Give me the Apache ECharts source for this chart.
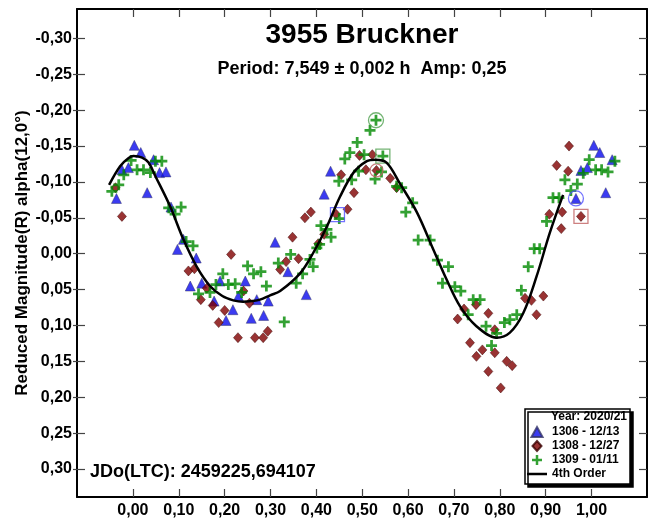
<!DOCTYPE html>
<html><head><meta charset="utf-8">
<script src="https://cdn.jsdelivr.net/npm/echarts@6/dist/echarts.min.js"></script>
<style>html,body{margin:0;padding:0;background:#fff}#c{width:649px;height:519px}</style>
</head><body><div id="c"></div>
<script>
const xTicks = [0, 0.1, 0.2, 0.3, 0.4, 0.5, 0.6, 0.7, 0.8, 0.9, 1.0];
const yTicks = [-0.30, -0.25, -0.20, -0.15, -0.10, -0.05, 0, 0.05, 0.10, 0.15, 0.20, 0.25, 0.30];

const s1306 = [[-0.036,-0.077],[-0.024,-0.117],[-0.010,-0.120],[0.003,-0.151],[0.017,-0.141],[0.031,-0.085],[0.045,-0.131],[0.058,-0.113],[0.072,-0.114],[0.083,-0.065],[0.097,-0.006],[0.110,-0.020],[0.125,0.045],[0.138,0.006],[0.150,0.041],[0.177,0.066],[0.190,0.038],[0.203,0.093],[0.218,0.078],[0.230,0.059],[0.245,0.038],[0.258,0.090],[0.270,0.064],[0.285,0.086],[0.295,0.066],[0.310,-0.016],[0.338,0.025],[0.378,0.057],[0.417,-0.083],[0.431,-0.115],[0.966,-0.077],[0.977,-0.116],[0.991,-0.120],[1.005,-0.151],[1.018,-0.141],[1.031,-0.085],[1.045,-0.131]];

const s1308 = [[-0.038,-0.092],[-0.024,-0.052],[0.121,0.024],[0.134,0.021],[0.148,0.064],[0.161,0.048],[0.174,0.072],[0.187,0.096],[0.200,0.079],[0.214,0.001],[0.229,0.117],[0.241,0.052],[0.254,0.069],[0.266,0.117],[0.284,0.117],[0.294,0.108],[0.321,0.022],[0.334,0.011],[0.348,-0.023],[0.361,0.007],[0.375,-0.050],[0.388,-0.058],[0.404,-0.014],[0.417,-0.027],[0.443,-0.055],[0.454,-0.110],[0.468,-0.062],[0.482,-0.085],[0.494,-0.137],[0.508,-0.117],[0.522,-0.138],[0.531,-0.116],[0.561,-0.105],[0.575,-0.092],[0.708,0.091],[0.722,0.077],[0.735,0.124],[0.748,0.071],[0.749,0.143],[0.762,0.134],[0.775,0.083],[0.775,0.164],[0.789,0.106],[0.789,0.138],[0.802,0.187],[0.815,0.150],[0.827,0.156],[0.855,0.062],[0.869,0.065],[0.880,0.085],[0.895,0.059],[0.908,-0.055],[0.924,-0.123],[0.934,-0.035],[0.936,-0.058],[0.949,-0.115],[0.951,-0.150],[0.977,-0.052]];

const s1309 = [[-0.046,-0.087],[-0.031,-0.096],[-0.020,-0.110],[-0.004,-0.130],[0.009,-0.117],[0.023,-0.117],[0.038,-0.113],[0.049,-0.129],[0.063,-0.129],[0.078,-0.064],[0.092,-0.055],[0.105,-0.065],[0.116,-0.017],[0.131,-0.011],[0.143,0.056],[0.168,0.054],[0.181,0.043],[0.196,0.028],[0.208,0.043],[0.223,0.042],[0.237,0.054],[0.250,0.017],[0.263,0.028],[0.279,0.025],[0.291,0.045],[0.317,0.013],[0.330,0.095],[0.344,0.001],[0.356,0.041],[0.370,0.028],[0.386,0.008],[0.393,0.018],[0.401,-0.008],[0.407,-0.013],[0.410,-0.039],[0.423,-0.034],[0.432,-0.023],[0.449,-0.101],[0.450,-0.049],[0.462,-0.132],[0.473,-0.141],[0.477,-0.103],[0.489,-0.155],[0.492,-0.115],[0.504,-0.138],[0.517,-0.172],[0.528,-0.104],[0.530,-0.186],[0.542,-0.114],[0.545,-0.136],[0.575,-0.094],[0.586,-0.092],[0.595,-0.058],[0.610,-0.071],[0.622,-0.019],[0.648,-0.019],[0.664,0.009],[0.675,0.041],[0.688,0.018],[0.702,0.046],[0.715,0.052],[0.731,0.085],[0.742,0.064],[0.757,0.064],[0.770,0.101],[0.782,0.128],[0.793,0.111],[0.810,0.096],[0.822,0.092],[0.837,0.085],[0.847,0.051],[0.862,0.018],[0.875,-0.007],[0.887,-0.007],[0.902,-0.045],[0.916,-0.078],[0.929,-0.078],[0.942,-0.103],[0.955,-0.088],[0.969,-0.097],[0.982,-0.112],[0.995,-0.131],[1.009,-0.117],[1.022,-0.117],[1.036,-0.114],[1.051,-0.129]];

const fitPhase = [-0.052,-0.028,-0.010,0.001,0.020,0.034,0.049,0.081,0.110,0.139,0.168,0.195,0.219,0.240,0.260,0.277,0.299,0.321,0.365,0.393,0.423,0.452,0.481,0.510,0.528,0.553,0.582,0.619,0.655,0.684,0.713,0.749,0.793,0.822,0.851,0.880,0.909,0.938];
const fitMag   = [-0.096,-0.122,-0.133,-0.136,-0.134,-0.127,-0.108,-0.066,-0.020,0.018,0.045,0.059,0.065,0.067,0.066,0.064,0.058,0.052,0.027,-0.001,-0.038,-0.080,-0.113,-0.129,-0.131,-0.127,-0.098,-0.058,-0.006,0.036,0.073,0.101,0.117,0.110,0.083,0.032,-0.029,-0.082];

const markBlueSquare = [[0.446,-0.0545]];
const markBlueCircle = [[0.966,-0.077]];
const markRedSquare = [[0.977,-0.052]];
const markRedCircle = [[0.531,-0.116]];
const markGreenSquare = [[0.545,-0.136]];
const markGreenCircle = [[0.530,-0.186]];

const FF = '"Liberation Sans", Arial, sans-serif';
const plusPath = 'path://M3,0H5V3H8V5H5V8H3V5H0V3H3Z';
const triPath = 'path://M5,0L10,9H0Z';
const diaPath = 'path://M4.5,0L9,5L4.5,10L0,5Z';
const fmt = v => (Math.abs(v) < 1e-9 ? 0 : v).toFixed(2).replace('.', ',');

const chart = echarts.init(document.getElementById('c'), null, {renderer: 'canvas'});
const xBase = {type: 'value', min: -0.122, max: 1.121, splitLine: {show: false}};
const yBase = {type: 'value', min: -0.341, max: 0.339, inverse: true, splitLine: {show: false}};
const axLine = {show: true, onZero: false, lineStyle: {color: '#000', width: 2}};
const tickStyle = {color: '#444', width: 1.2};

function markSeries(data, sym, size, color) {
  return {type: 'scatter', data: data, symbol: sym, symbolSize: size, silent: true, z: 4,
    itemStyle: {color: 'rgba(0,0,0,0)', borderColor: color, borderWidth: 1.3}};
}

chart.setOption({
  animation: false,
  backgroundColor: '#fff',
  grid: {left: 77, right: 2, top: 9, bottom: 22, containLabel: false},
  xAxis: [
    Object.assign({}, xBase, {position: 'bottom', axisLine: axLine,
      axisTick: {show: true, inside: true, length: 8, customValues: xTicks, lineStyle: tickStyle},
      axisLabel: {show: true, customValues: xTicks, formatter: fmt, fontSize: 16, fontWeight: 'bold', fontFamily: FF, color: '#000', margin: 6}}),
    Object.assign({}, xBase, {position: 'top', axisLine: axLine,
      axisTick: {show: true, inside: true, length: 8, customValues: xTicks, lineStyle: tickStyle},
      axisLabel: {show: false}})
  ],
  yAxis: [
    Object.assign({}, yBase, {position: 'left', axisLine: axLine,
      axisTick: {show: true, inside: false, length: 4, customValues: yTicks, lineStyle: tickStyle},
      axisLabel: {show: true, customValues: yTicks, formatter: fmt, fontSize: 16, fontWeight: 'bold', fontFamily: FF, color: '#000', margin: 5},
      name: 'Reduced Magnitude(R) alpha(12,0°)', nameLocation: 'middle', nameGap: 46, nameMoveOverlap: false,
      nameTextStyle: {fontSize: 17, fontWeight: 'bold', fontFamily: FF, color: '#000'}}),
    Object.assign({}, yBase, {position: 'right', axisLine: axLine,
      axisTick: {show: true, inside: true, length: 8, customValues: yTicks, lineStyle: tickStyle},
      axisLabel: {show: false}}),
    Object.assign({}, yBase, {position: 'left', axisLine: {show: false, onZero: false},
      axisTick: {show: true, inside: true, length: 8, customValues: yTicks, lineStyle: tickStyle},
      axisLabel: {show: false}})
  ],
  legend: {
    orient: 'vertical', left: 527, top: 426, padding: 0, itemGap: 2,
    itemWidth: 20, itemHeight: 10, selectedMode: false, z: 10,
    textStyle: {fontSize: 12, lineHeight: 12, fontWeight: 'bold', fontFamily: FF, color: '#000'},
    data: [
      {name: '1306 - 12/13', icon: triPath},
      {name: '1308 - 12/27', icon: diaPath},
      {name: '1309 - 01/11', icon: plusPath},
      {name: '4th Order', icon: 'path://M0,0H20V2.5H0Z'}
    ]
  },
  graphic: [
    {type: 'rect', z: 3, shape: {x: 525, y: 409, width: 105, height: 75},
      style: {fill: '#fff', stroke: '#000', lineWidth: 1.5, shadowColor: '#000', shadowOffsetX: 3, shadowOffsetY: 3, shadowBlur: 0}},
    {type: 'text', z: 11, style: {text: 'Year: 2020/21', x: 627, y: 417, align: 'right', verticalAlign: 'middle', fontSize: 12, fontWeight: 'bold', fontFamily: FF, fill: '#000'}},
    {type: 'text', z: 11, style: {text: '3955 Bruckner', x: 362, y: 35, align: 'center', verticalAlign: 'middle', fontSize: 28, fontWeight: 'bold', fontFamily: FF, fill: '#000'}},
    {type: 'text', z: 11, style: {text: 'Period: 7,549 ± 0,002 h  Amp: 0,25', x: 362, y: 69, align: 'center', verticalAlign: 'middle', fontSize: 18, fontWeight: 'bold', fontFamily: FF, fill: '#000'}},
    {type: 'text', z: 11, style: {text: 'JDo(LTC): 2459225,694107', x: 90, y: 472, align: 'left', verticalAlign: 'middle', fontSize: 18, fontWeight: 'bold', fontFamily: FF, fill: '#000'}}
  ],
  series: [
    {name: '1306 - 12/13', type: 'scatter', data: s1306, symbol: 'triangle', symbolSize: 10, z: 3,
      itemStyle: {color: '#0a0aee', borderColor: '#333366', borderWidth: 0.6}},
    {name: '1308 - 12/27', type: 'scatter', data: s1308, symbol: 'diamond', symbolSize: [9, 10], z: 3,
      itemStyle: {color: '#800000', borderColor: '#3a0000', borderWidth: 0.6}},
    {name: '1309 - 01/11', type: 'scatter', data: s1309, symbol: plusPath, symbolSize: 11, z: 3,
      itemStyle: {color: '#008a00'}},
    {name: '4th Order', type: 'line', data: fitPhase.map((p, i) => [p, fitMag[i]]), smooth: 0.35,
      showSymbol: false, symbol: 'none', z: 5, color: '#000', lineStyle: {color: '#000', width: 2.5}},
    markSeries(markBlueSquare, 'rect', 14, '#5050ff'),
    markSeries(markBlueCircle, 'circle', 15, '#5050ff'),
    markSeries(markRedSquare, 'rect', 14, '#c06060'),
    markSeries(markRedCircle, 'circle', 13, '#c06060'),
    markSeries(markGreenSquare, 'rect', 14, '#50a050'),
    markSeries(markGreenCircle, 'circle', 15, '#50a050')
  ]
});
</script></body></html>
